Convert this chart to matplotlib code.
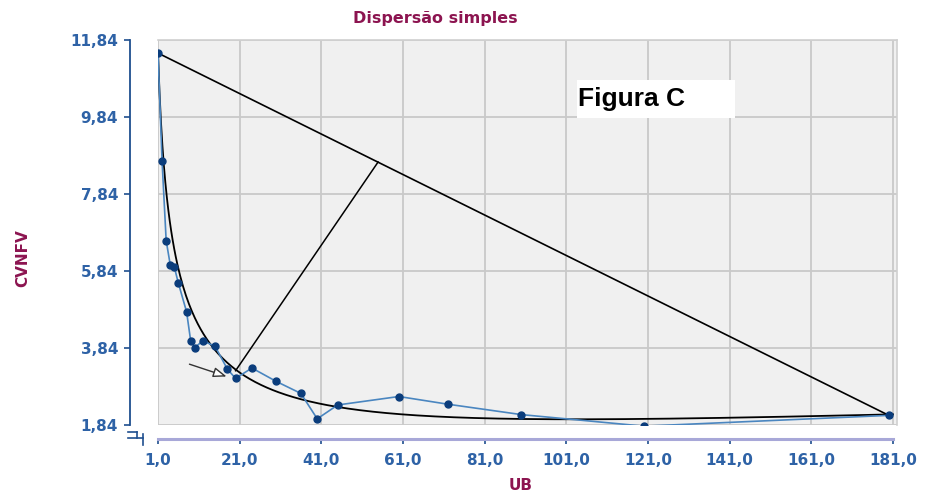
import numpy as np
import matplotlib
matplotlib.use("Agg")
import matplotlib.pyplot as plt
from matplotlib.lines import Line2D
from matplotlib.patches import Rectangle

# ---- data ----
ub = [1, 2, 3, 4, 5, 6, 8, 9, 10, 12, 15, 18, 20, 24, 30, 36, 40, 45, 60, 72, 90, 120, 180]
cvnfv = [11.50, 8.69, 6.63, 6.00, 5.94, 5.52, 4.78, 4.03, 3.85, 4.03, 3.88, 3.29, 3.05,
         3.32, 2.97, 2.66, 2.00, 2.36, 2.58, 2.38, 2.11, 1.81, 2.09]

# trend curve, values at a few UB positions
trend_x = [1, 2, 3, 4, 6, 9, 13, 20, 25, 36, 46, 55, 70, 100, 120, 150, 181]
trend_y = [11.5, 9.3, 8.0, 6.95, 5.85, 4.8, 4.1, 3.3, 3.0, 2.55, 2.3, 2.15, 2.04, 1.95, 1.97, 2.04, 2.16]

# knee line (from curve elbow to the chord)
knee_x = [20.0, 54.9]
knee_y = [3.25, 8.67]
# arrow pointing to the knee
arrow_start = (8.7, 3.42)
arrow_end = (17.8, 3.10)

x_ticks = [1, 21, 41, 61, 81, 101, 121, 141, 161, 181]
x_ticklabels = ["1,0", "21,0", "41,0", "61,0", "81,0", "101,0", "121,0", "141,0", "161,0", "181,0"]
y_ticks = [1.84, 3.84, 5.84, 7.84, 9.84, 11.84]
y_ticklabels = ["1,84", "3,84", "5,84", "7,84", "9,84", "11,84"]

title = "Dispersão simples"
xlabel = "UB"
ylabel = "CVNFV"
tag = "Figura C"

# ---- styling ----
plt.rcParams['font.family'] = ['DejaVu Sans']
plt.rcParams['font.weight'] = 'bold'
W, H = 934, 495
PT = 72 / 100  # points per pixel at 100 dpi
fig = plt.figure(figsize=(W / 100, H / 100), dpi=100)
L, R, T, B = 158, 897, 40, 425
ax = fig.add_axes([L / W, 1 - B / H, (R - L) / W, (B - T) / H])
ax.set_facecolor('#f0f0f0')

ax.set_xlim(1, 182)
ax.set_ylim(1.84, 11.84)

tick_col = '#2e62a6'
ax.set_xticks(x_ticks)
ax.set_xticklabels(x_ticklabels)
ax.set_yticks(y_ticks)
ax.set_yticklabels(y_ticklabels)
ax.grid(True, color='#c9c9c9', lw=1.3)
ax.set_axisbelow(True)

ax.tick_params(axis='x', length=5 * PT, width=1.2, color='#1f4f8f', pad=9 * PT,
               labelcolor=tick_col, labelsize=11)
ax.tick_params(axis='y', length=6 * PT, width=1.2, color='#1f4f8f', pad=6 * PT,
               labelcolor=tick_col, labelsize=11)
for lab in ax.get_xticklabels() + ax.get_yticklabels():
    lab.set_fontweight('bold')

ax.spines['left'].set_position(('outward', 28 * PT))
ax.spines['left'].set_color('#1f4f8f')
ax.spines['left'].set_linewidth(1.3)
ax.spines['left'].set_bounds(1.84, 11.84)
ax.spines['bottom'].set_position(('outward', 14 * PT))
ax.spines['bottom'].set_color('#a8a8d8')
ax.spines['bottom'].set_linewidth(2.2)
ax.spines['bottom'].set_bounds(1, 181)
for s in ('top', 'right'):
    ax.spines[s].set_color('#d0d0d0')
    ax.spines[s].set_linewidth(1.2)

# smooth trend curve through the read values
tx = np.array(trend_x, dtype=float)
ty = np.array(trend_y, dtype=float)
coef = np.polyfit(np.log(tx), ty, 4)
xc = np.linspace(1, 181, 500)
ax.plot(xc, np.polyval(coef, np.log(xc)), color='black', lw=1.3, zorder=3)

# chord from first to last point
ax.plot([ub[0], ub[-1]], [cvnfv[0], cvnfv[-1]], color='black', lw=1.2, zorder=3)
# knee line
ax.plot(knee_x, knee_y, color='black', lw=1.1, zorder=3)

# data series
ax.plot(ub, cvnfv, color='#4a86c0', lw=1.2, marker='o', markersize=5,
        markerfacecolor='#0b3d7c', markeredgecolor='#0b3d7c', zorder=4)

ax.annotate('', xy=arrow_end, xytext=arrow_start,
            arrowprops=dict(arrowstyle='-|>,head_length=0.8,head_width=0.3',
                            color='#333333', fc='white', lw=1.0, shrinkA=0, shrinkB=0),
            zorder=5)

# tag box
ax.add_patch(Rectangle((0.567, 0.797), 0.214, 0.099, transform=ax.transAxes,
                       facecolor='white', edgecolor='none', zorder=5))
ax.text(0.569, 0.848, tag, transform=ax.transAxes, fontsize=19, fontweight='bold',
        family=['Liberation Sans', 'DejaVu Sans'],
        color='black', va='center', ha='left', zorder=6)

lab_col = '#8c1450'
fig.text(435 / W, 1 - 18 / H, title, ha='center', va='center', fontsize=11.5,
         fontweight='bold', color=lab_col)
fig.text(521 / W, 1 - 485 / H, xlabel, ha='center', va='center', fontsize=11,
         fontweight='bold', color=lab_col)
fig.text(23 / W, 1 - 258 / H, ylabel, ha='center', va='center', fontsize=11,
         fontweight='bold', color=lab_col, rotation=90)

# broken-axis glyph at bottom-left
gc = '#1f4f8f'
segs = [((128, 137), (432, 432)), ((137, 137), (432, 438)), ((128, 143), (438, 438)),
        ((143, 143), (434, 445))]
for (x0, x1), (y0, y1) in segs:
    fig.add_artist(Line2D([x0 / W, x1 / W], [1 - y0 / H, 1 - y1 / H], color=gc, lw=1.2))

fig.savefig('out.png', dpi=100)
